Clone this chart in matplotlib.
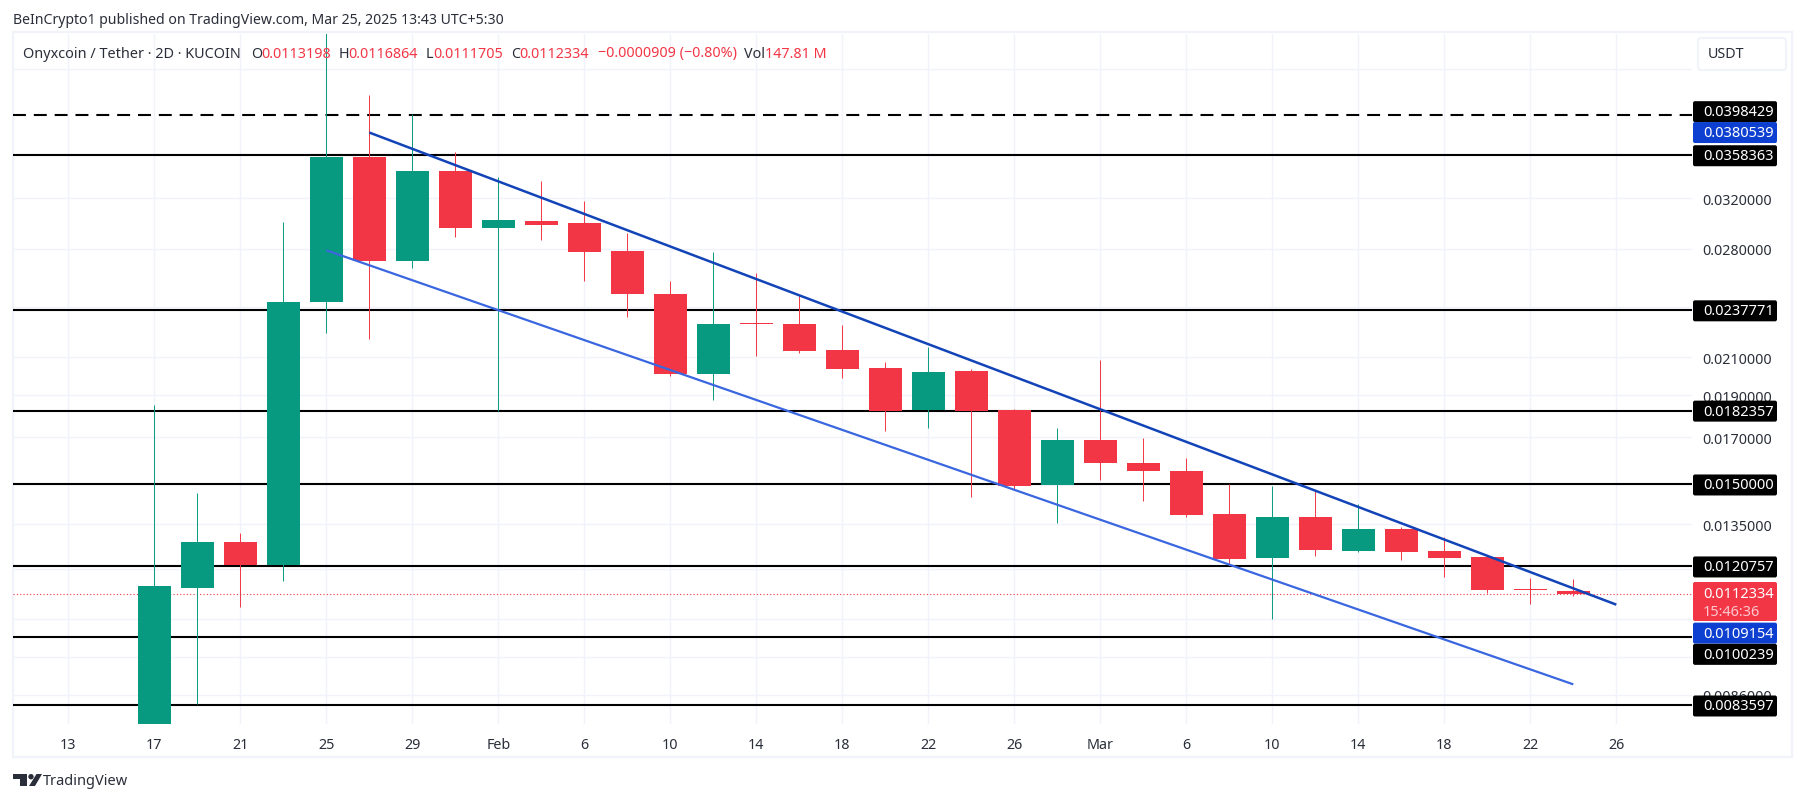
import matplotlib
matplotlib.use('Agg')
import matplotlib.pyplot as plt
from matplotlib.patches import FancyBboxPatch, Polygon, Circle, Rectangle
from matplotlib.ticker import NullLocator
from matplotlib.transforms import IdentityTransform

plt.rcParams['font.family'] = ['Noto Sans', 'DejaVu Sans']

# 2D candles, Jan 17 to Mar 24
opens = [0.00720, 0.01140, 0.01287, 0.01211, 0.02429, 0.03565, 0.02707, 0.03436, 0.02955, 0.03010, 0.02994, 0.02780,
         0.02481, 0.02007, 0.02298, 0.02292, 0.02139, 0.02040, 0.01825, 0.02024, 0.01825, 0.01497, 0.01686, 0.01586,
         0.01553, 0.01386, 0.01234, 0.01378, 0.01257, 0.01335, 0.01257, 0.01237, 0.01137, 0.0113198]
highs = [0.01849, 0.01466, 0.01321, 0.03002, 0.05050, 0.04200, 0.03994, 0.03613, 0.03382, 0.03346, 0.03174, 0.02916,
         0.02568, 0.02772, 0.02623, 0.02474, 0.02286, 0.02072, 0.02157, 0.02034, 0.01830, 0.01740, 0.02083, 0.01695,
         0.01608, 0.01501, 0.01493, 0.01473, 0.01423, 0.01339, 0.01304, 0.01243, 0.01170, 0.0116864]
lows = [0.00720, 0.00840, 0.01084, 0.01161, 0.02238, 0.02203, 0.02657, 0.02885, 0.01820, 0.02863, 0.02568, 0.02335,
        0.01997, 0.01874, 0.02105, 0.02122, 0.01986, 0.01727, 0.01740, 0.01450, 0.01481, 0.01353, 0.01517, 0.01434,
        0.01375, 0.01211, 0.01050, 0.01240, 0.01253, 0.01227, 0.01173, 0.01127, 0.01092, 0.0111705]
closes = [0.01146, 0.01287, 0.01211, 0.02429, 0.03565, 0.02707, 0.03436, 0.02955, 0.03018, 0.02978, 0.02772, 0.02481,
          0.02007, 0.02292, 0.02292, 0.02133, 0.02034, 0.01820, 0.02018, 0.01820, 0.01493, 0.01686, 0.01586, 0.01553,
          0.01382, 0.01230, 0.01375, 0.01260, 0.01332, 0.01253, 0.01234, 0.01134, 0.01134, 0.0112334]
first_candle = 2

time_labels = ['13', '17', '21', '25', '29', 'Feb', '6', '10', '14', '18', '22', '26', 'Mar', '6', '10', '14', '18', '22', '26']
price_levels = [0.045, 0.036, 0.032, 0.028, 0.024, 0.021, 0.019, 0.017, 0.015, 0.0135, 0.012, 0.0105, 0.0095, 0.0086]
# the other levels sit behind the tags on the price scale
labelled_levels = [0.032, 0.028, 0.021, 0.019, 0.017, 0.0135, 0.0086]

solid_levels = [0.0358363, 0.0237771, 0.0182357, 0.0150000, 0.0120757, 0.0100239, 0.0083597]
dashed_level = 0.0398429
last_close = 0.0112334

upper_x = [7, 36]
upper_y = [0.0380539, 0.0109154]
lower_x = [6, 35]
lower_y = [0.02787, 0.00884]

RED = '#F23645'
GREEN = '#089981'
BLUE_TAG = '#0D40D0'
UPPER_BLUE = '#1244B8'
LOWER_BLUE = '#3A66E0'
GRID = '#F0F3FA'
TEXT = '#2A2E39'

W, H = 1805, 803
fig = plt.figure(figsize=(W / 100, H / 100), dpi=100, facecolor='white')


def px_text(x, y, s, color=TEXT, size=10.3, **kw):
    return fig.text(x / W, 1 - y / H, s, color=color, fontsize=size, va='center', ha=kw.pop('ha', 'left'), **kw)


# frame around the chart
fig.add_artist(Rectangle((13 / W, 1 - 758 / H), (1792 - 13) / W, (758 - 33) / H, transform=fig.transFigure,
                         fill=False, edgecolor=GRID, linewidth=1.6, zorder=0))

ax = fig.add_axes([13 / W, 1 - 725.2 / H, (1692 - 13) / W, (724 - 34) / H])
ax.set_facecolor('none')
ax.set_yscale('log')
ax.set_ylim(0.007956, 0.04936)
ax.set_xlim(-1.286, 37.76)
for s in ax.spines.values():
    s.set_visible(False)

tick_x = [i * 2 for i in range(len(time_labels))]
ax.set_xticks(tick_x)
ax.set_xticklabels(time_labels, fontsize=10.3, color=TEXT)
for t in ax.get_xticklabels():
    if t.get_text() in ('Feb', 'Mar'):
        t.set_fontweight('bold')
ax.yaxis.tick_right()
ax.set_yticks(price_levels)
ax.set_yticklabels(['%.7f' % v if v in labelled_levels else '' for v in price_levels], fontsize=10.3, color=TEXT)
ax.yaxis.set_minor_locator(NullLocator())
ax.tick_params(axis='x', length=0, pad=9)
ax.tick_params(axis='y', length=0, pad=7.7)
ax.grid(True, color=GRID, linewidth=1.0, zorder=0)
ax.set_axisbelow(True)

# levels
for v in solid_levels:
    ax.axhline(v, color='black', linewidth=1.5, zorder=2)
ax.axhline(dashed_level, color='black', linewidth=1.5, linestyle=(0, (6.2, 3.8)), zorder=2)
ax.axhline(last_close, color=RED, linewidth=0.8, linestyle=(0, (1, 2)), zorder=2)

# candles
xs = [first_candle + i for i in range(len(opens))]
colors = [GREEN if c >= o else RED for o, c in zip(opens, closes)]
ax.vlines(xs, lows, highs, colors=colors, linewidth=0.7, zorder=3)
ax.bar(xs, [abs(c - o) for o, c in zip(opens, closes)], bottom=[min(o, c) for o, c in zip(opens, closes)],
       width=0.77, color=colors, zorder=3.1)

# channel
ax.plot(upper_x, upper_y, color=UPPER_BLUE, linewidth=1.8, zorder=4, solid_capstyle='butt')
ax.plot(lower_x, lower_y, color=LOWER_BLUE, linewidth=1.6, zorder=4, solid_capstyle='butt')


def tag(value, color, shift=0, height=21, txt='white'):
    y = H - ax.transData.transform((0, value))[1] + shift
    box = FancyBboxPatch((1693, H - (y + height / 2)), 84, height, boxstyle='round,pad=0,rounding_size=2',
                         transform=IdentityTransform(), facecolor=color, edgecolor='none', zorder=5)
    fig.add_artist(box)
    px_text(1703, y, '%.7f' % value, color=txt, zorder=6, size=10.5)


tag(dashed_level, 'black', shift=-3.5)
tag(upper_y[0], BLUE_TAG, shift=0)
for v in solid_levels[:5]:
    tag(v, 'black', shift=0.5)

# last price tag is taller, holds the countdown as well
fig.add_artist(FancyBboxPatch((1693, H - 622), 84, 39, boxstyle='round,pad=0,rounding_size=2',
                              transform=IdentityTransform(), facecolor=RED, edgecolor='none', zorder=5))
px_text(1703, 595, '%.7f' % last_close, color='white', zorder=6, size=10.5)
px_text(1703, 612.5, '15:46:36', color='#FBC9CD', zorder=6, size=10.5)
tag(upper_y[1], BLUE_TAG, shift=28.5)
tag(solid_levels[5], 'black', shift=17.5)
tag(solid_levels[6], 'black', shift=0.5)

# currency button
fig.add_artist(FancyBboxPatch((1698, H - 71), 88, 32, boxstyle='round,pad=0,rounding_size=3',
                              transform=IdentityTransform(), facecolor='white', edgecolor=GRID, linewidth=1.5, zorder=5))
px_text(1708, 55, 'USDT', zorder=6)

# header
px_text(13, 20, 'BeInCrypto1 published on TradingView.com, Mar 25, 2025 13:43 UTC+5:30', size=10.15)
px_text(23, 54, 'Onyxcoin / Tether · 2D · KUCOIN', size=10.4)
for x, s, c in [(251, 'O', TEXT), (261, '0.0113198', RED), (339, 'H', TEXT), (348, '0.0116864', RED),
                (426, 'L', TEXT), (433, '0.0111705', RED), (511, 'C', TEXT), (519, '0.0112334', RED),
                (598, '−0.0000909 (−0.80%)', RED), (744, 'Vol', TEXT), (765, '147.81 M', RED)]:
    px_text(x, 54, s, color=c)

# footer logo
logo = [Polygon([(13, H - 775), (27, H - 775), (27, H - 787), (20, H - 787), (20, H - 780), (13, H - 780)]),
        Circle((31, H - 777.7), 2.7),
        Polygon([(36.5, H - 775), (42, H - 775), (35, H - 787), (29, H - 787)])]
for p in logo:
    p.set_transform(IdentityTransform())
    p.set_facecolor(TEXT)
    p.set_edgecolor('none')
    fig.add_artist(p)
px_text(43, 782, 'TradingView', size=10.5)

fig.savefig('out.png', dpi=100, facecolor='white')
